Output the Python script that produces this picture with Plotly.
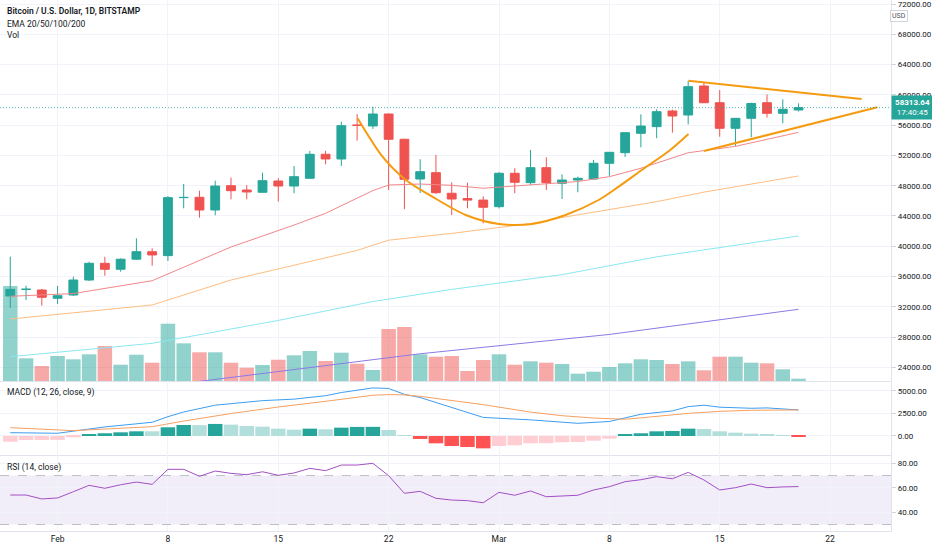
import pandas as pd
import plotly.graph_objects as go

# daily candles, Bitstamp BTC/USD
dates = pd.date_range("2021-01-29", "2021-03-20", freq="D")

opens = [33430, 34310, 34220, 33130, 33560, 35540, 37750, 36960, 38290, 39280,
         38760, 46420, 46470, 44790, 48000, 47430, 47130, 48620, 47960, 48980,
         52150, 51530, 56020, 55890, 57470, 54130, 48880, 49720, 47000, 46300,
         46100, 45230, 49640, 48400, 50380, 48320, 48750, 48880, 50960, 52360,
         54920, 55800, 57870, 57340, 61170, 58960, 55580, 56900, 58960, 57560,
         58000]
highs = [38620, 34790, 34350, 34750, 35980, 37960, 38620, 38390, 41050, 39730,
         46640, 48230, 47340, 48660, 49060, 48080, 49720, 49000, 50600, 52600,
         52620, 56460, 57470, 58440, 57530, 54200, 51490, 52060, 48450, 48400,
         46600, 49800, 50300, 52720, 51750, 49500, 49200, 51400, 52400, 54900,
         57430, 58100, 58050, 61870, 61600, 60640, 56900, 58960, 60070, 59410,
         58880]
lows = [31880, 32900, 32150, 32380, 33420, 35410, 36110, 36640, 38190, 37430,
        38050, 45010, 43770, 44100, 46200, 46200, 47070, 45890, 47000, 48900,
        50820, 50600, 53950, 55500, 47430, 44900, 47040, 46900, 44130, 45020,
        43030, 45000, 47000, 48100, 47430, 46240, 47130, 48880, 49300, 51800,
        53070, 54270, 55000, 56100, 59000, 54470, 53250, 54400, 57000, 56240,
        57800]
closes = [34310, 34320, 33260, 33470, 35540, 37750, 36960, 38290, 39280, 38850,
          46420, 46450, 44790, 47960, 47340, 47170, 48660, 47960, 49190, 52150,
          51530, 55930, 55960, 57470, 54130, 48850, 49850, 47080, 46240, 46100,
          45150, 49640, 48450, 50380, 48400, 48750, 48980, 50960, 52410, 55000,
          55880, 57780, 57210, 61080, 58960, 55580, 56900, 58860, 57560, 58090,
          58313.64]
volumes = [31350, 7490, 4950, 8250, 7160, 8810, 11550, 5380, 8680, 6040,
           18910, 12440, 9470, 9470, 6040, 4390, 5280, 7030, 8480, 9900,
           6600, 9340, 5710, 3630, 17160, 17820, 8810, 8020, 8250, 3300,
           6930, 8810, 5380, 6500, 6040, 5610, 2410, 3070, 4620, 5840,
           7160, 6930, 5610, 6500, 3530, 8020, 8020, 6040, 5840, 3860,
           760]

# moving averages
ema20_dates = ["2021-01-29", "2021-02-02", "2021-02-07", "2021-02-12", "2021-02-16",
               "2021-02-18", "2021-02-21", "2021-02-22", "2021-02-24", "2021-02-26",
               "2021-02-28", "2021-03-03", "2021-03-06", "2021-03-08", "2021-03-10",
               "2021-03-13", "2021-03-16", "2021-03-20"]
ema20 = [33390, 33750, 35450, 39900, 42800, 44350, 47350, 48090, 48220, 48050,
         47660, 48150, 48550, 49190, 50300, 52350, 53200, 55050]
ema50_dates = ["2021-01-29", "2021-02-07", "2021-02-12", "2021-02-18", "2021-02-20",
               "2021-02-22", "2021-02-26", "2021-03-03", "2021-03-05", "2021-03-11",
               "2021-03-14", "2021-03-20"]
ema50 = [30390, 32240, 35540, 38500, 39450, 40800, 41700, 43000, 43800, 45890,
         47150, 49280]
ema100_dates = ["2021-01-29", "2021-02-07", "2021-02-15", "2021-02-21", "2021-02-26",
                "2021-03-05", "2021-03-11", "2021-03-20"]
ema100 = [25410, 27180, 30200, 32700, 34300, 36250, 38600, 41360]
ema200_dates = ["2021-02-10", "2021-02-11", "2021-02-15", "2021-02-24", "2021-03-06",
                "2021-03-08", "2021-03-20"]
ema200 = [22150, 22400, 23450, 25800, 27920, 28350, 31670]

# MACD (12, 26, close, 9)
macd_dates = ["2021-01-29", "2021-02-01", "2021-02-04", "2021-02-07", "2021-02-08",
              "2021-02-09", "2021-02-11", "2021-02-14", "2021-02-16", "2021-02-18",
              "2021-02-19", "2021-02-21", "2021-02-22", "2021-02-23", "2021-02-24",
              "2021-02-27", "2021-02-28", "2021-03-03", "2021-03-06", "2021-03-08",
              "2021-03-10", "2021-03-12", "2021-03-13", "2021-03-14", "2021-03-15",
              "2021-03-17", "2021-03-18", "2021-03-20"]
macd = [365, 300, 1000, 1515, 2135, 2650, 3400, 3905, 4070, 4450,
        4800, 5310, 5250, 4600, 4250, 2550, 2050, 1780, 1400, 1600,
        2400, 2770, 3240, 3400, 3180, 3060, 3100, 2875]
signal_dates = ["2021-01-29", "2021-02-02", "2021-02-07", "2021-02-09", "2021-02-12",
                "2021-02-15", "2021-02-18", "2021-02-21", "2021-02-22", "2021-02-23",
                "2021-02-24", "2021-02-27", "2021-02-28", "2021-03-03", "2021-03-05",
                "2021-03-07", "2021-03-09", "2021-03-10", "2021-03-13", "2021-03-15",
                "2021-03-17", "2021-03-20"]
signal = [918, 590, 1030, 1650, 2480, 3200, 3830, 4500, 4570, 4540,
          4380, 3700, 3460, 2640, 2240, 1980, 1850, 2000, 2500, 2720,
          2840, 2875]
macd_hist = [-630, -440, -435, -430, -150, 185, 300, 405, 515, 515,
             960, 1215, 1200, 1330, 1255, 1105, 1030, 810, 700, 810,
             740, 920, 1000, 1010, 665, 70, -330, -810, -1105, -1220,
             -1365, -1105, -1030, -810, -800, -700, -665, -515, -295, 150,
             300, 515, 555, 810, 775, 515, 370, 260, 185, 75,
             -110]

# RSI (14, close)
rsi = [54.1, 54.1, 50.9, 51.7, 56.8, 62.0, 59.6, 62.5, 64.7, 62.8,
       75.1, 75.1, 69.4, 73.7, 71.8, 70.7, 73.1, 70.2, 72.1, 75.9,
       74.0, 78.6, 78.6, 80.0, 69.9, 55.5, 57.1, 51.4, 50.0, 49.5,
       47.8, 56.3, 53.9, 57.4, 52.7, 53.6, 53.9, 58.2, 60.9, 65.0,
       66.6, 69.1, 67.4, 72.6, 66.4, 58.2, 60.1, 63.1, 60.1, 60.7,
       61.0]

# hand drawn pattern lines (cup + triangle)
cup_dates = ["2021-02-20 00:45", "2021-02-21 14:40", "2021-02-23 02:10", "2021-02-24 18:30",
             "2021-02-26 21:20", "2021-03-01 00:00", "2021-03-03 02:25", "2021-03-05 05:15",
             "2021-03-07 07:40", "2021-03-08 14:10", "2021-03-10 01:25", "2021-03-11 20:40",
             "2021-03-13 00:30"]
cup_prices = [56900, 51830, 48750, 46550, 44130, 42940, 42940, 44130,
              46110, 47870, 50070, 52720, 54830]
tri_upper_dates = ["2021-03-13 00:30", "2021-03-24 00:00"]
tri_upper = [61870, 59450]
tri_lower_dates = ["2021-03-14 00:00", "2021-03-25 00:00"]
tri_lower = [52580, 58360]

last_price = 58313.64
last_time = "17:40:45"

tick_dates = ["2021-02-01", "2021-02-08", "2021-02-15", "2021-02-22",
              "2021-03-01", "2021-03-08", "2021-03-15", "2021-03-22"]
tick_text = ["Feb", "8", "15", "22", "Mar", "8", "15", "22"]

UP = "#26a69a"
DN = "#ef5350"
GRID = "#f0f3fa"
SEP = "#e0e3eb"
TXT = "#131722"
FONT = "Roboto, sans-serif"
XR = 893 / 932
MAIN0 = 1 - 381 / 550
MACD0 = 1 - 455 / 550
RSI0 = 1 - 531 / 550
DAY = 86400000

vol_colors = ["rgba(38,166,154,0.5)" if c >= o else "rgba(239,83,80,0.5)"
              for o, c in zip(opens, closes)]
hist_colors = []
for i, h in enumerate(macd_hist):
    prev = macd_hist[i - 1] if i else None
    if h >= 0:
        hist_colors.append("#26a69a" if prev is None or h > prev else "#b2dfdb")
    else:
        hist_colors.append("#ffcdd2" if prev is None or h > prev else "#ff5252")

fig = go.Figure()

# volume sits on the base axis so the price layer is drawn above it
fig.add_trace(go.Bar(x=dates, y=volumes, marker=dict(color=vol_colors, line_width=0),
                     width=0.92 * DAY, xaxis="x", yaxis="y", hoverinfo="skip"))

for d, v, col in [(ema200_dates, ema200, "#8c7ae6"), (ema100_dates, ema100, "#8ae8f0"),
                  (ema50_dates, ema50, "#ffbd80"), (ema20_dates, ema20, "#f3868a")]:
    fig.add_trace(go.Scatter(x=d, y=v, mode="lines", line=dict(color=col, width=1),
                             xaxis="x", yaxis="y2", hoverinfo="skip"))

fig.add_trace(go.Candlestick(
    x=dates, open=opens, high=highs, low=lows, close=closes,
    xaxis="x", yaxis="y2", whiskerwidth=0,
    increasing=dict(line=dict(color=UP, width=1), fillcolor=UP),
    decreasing=dict(line=dict(color=DN, width=1), fillcolor=DN),
    hoverinfo="skip"))

fig.add_trace(go.Scatter(x=cup_dates, y=cup_prices, mode="lines",
                         line=dict(color="#f59b0f", width=2, shape="spline", smoothing=0.8),
                         xaxis="x", yaxis="y2"))
fig.add_trace(go.Scatter(x=tri_upper_dates, y=tri_upper, mode="lines",
                         line=dict(color="#f59b0f", width=2), xaxis="x", yaxis="y2"))
fig.add_trace(go.Scatter(x=tri_lower_dates, y=tri_lower, mode="lines",
                         line=dict(color="#f59b0f", width=2), xaxis="x", yaxis="y2"))

# MACD pane
fig.add_trace(go.Bar(x=dates, y=macd_hist, marker=dict(color=hist_colors, line_width=0),
                     width=0.92 * DAY, xaxis="x2", yaxis="y3", hoverinfo="skip"))
fig.add_trace(go.Scatter(x=macd_dates, y=macd, mode="lines", line=dict(color="#3d9df2", width=1),
                         xaxis="x2", yaxis="y3"))
fig.add_trace(go.Scatter(x=signal_dates, y=signal, mode="lines", line=dict(color="#f7a060", width=1),
                         xaxis="x2", yaxis="y3"))

# RSI pane
fig.add_trace(go.Scatter(x=dates, y=rsi, mode="lines", line=dict(color="#a24fc4", width=1),
                         xaxis="x3", yaxis="y4"))

x_range = ["2021-01-28 08:21", "2021-03-25 20:53"]
xcommon = dict(domain=[0, XR], type="date", tickvals=tick_dates, ticktext=tick_text,
               showgrid=True, gridcolor=GRID, gridwidth=1, showline=True, linecolor=SEP,
               zeroline=False, fixedrange=True)
ycommon = dict(side="right", showgrid=True, gridcolor=GRID, showline=True, linecolor=SEP,
               ticks="outside", ticklen=4, tickcolor="#d1d4dc", tickformat=".2f",
               tickfont=dict(size=8, color=TXT), zeroline=False, fixedrange=True,
               ticklabeloverflow="allow")

fig.update_layout(
    width=932, height=550, autosize=False,
    margin=dict(l=0, r=0, t=0, b=0),
    paper_bgcolor="white", plot_bgcolor="white",
    showlegend=False, hovermode=False,
    boxgap=0.2,
    font=dict(family=FONT, size=8, color=TXT),
    xaxis=dict(xcommon, anchor="y", range=x_range, showticklabels=False,
               rangeslider=dict(visible=False)),
    xaxis2=dict(xcommon, anchor="y3", matches="x", showticklabels=False),
    xaxis3=dict(xcommon, anchor="y4", matches="x", showticklabels=True,
                tickfont=dict(size=8.5, color=TXT)),
    yaxis=dict(domain=[MAIN0, 1], anchor="x", range=[0, 125730], visible=False, fixedrange=True),
    yaxis2=dict(ycommon, overlaying="y", anchor="x", range=[22200, 72530], dtick=4000, tick0=0),
    yaxis3=dict(ycommon, domain=[MACD0, MAIN0], anchor="x2", range=[-2100, 6073],
                tickvals=[0, 2500, 5000]),
    yaxis4=dict(ycommon, domain=[RSI0, MACD0], anchor="x3", range=[24.7, 86.8],
                tickvals=[40, 60, 80]),
)

# RSI band and current price line
fig.add_shape(type="rect", xref="x3 domain", yref="y4", x0=0, x1=1, y0=30, y1=70,
              fillcolor="rgba(126,87,194,0.1)", line_width=0, layer="below")
for lvl in (30, 70):
    fig.add_shape(type="line", xref="x3 domain", yref="y4", x0=0, x1=1, y0=lvl, y1=lvl,
                  line=dict(color="rgba(120,123,134,0.45)", width=1, dash="dash"))
fig.add_shape(type="line", xref="x domain", yref="y2", x0=0, x1=1, y0=last_price, y1=last_price,
              line=dict(color=UP, width=1, dash="1px,2px"), opacity=0.8)

fig.add_annotation(xref="paper", yref="y2", x=XR, y=last_price, xanchor="left", yanchor="middle",
                   text=f"<b>{last_price:.2f}</b><br>{last_time}", showarrow=False,
                   bgcolor=UP, font=dict(size=8, color="white"), width=37, borderpad=2,
                   align="center")
fig.add_annotation(xref="paper", yref="paper", x=910 / 932, y=1 - 10 / 550, text="USD",
                   showarrow=False, font=dict(size=7, color="#50535e"), bordercolor="#d1d4dc",
                   borderwidth=1, borderpad=1, bgcolor="white")

labels = [("Bitcoin / U.S. Dollar, 1D, BITSTAMP", 11.5, 8.5, 600),
          ("EMA 20/50/100/200", 23.5, 8.5, 400),
          ("Vol", 35, 8.5, 400),
          ("MACD (12, 26, close, 9)", 392.7, 8.5, 400),
          ("RSI (14, close)", 467.5, 8.5, 400)]
for txt, py, size, weight in labels:
    fig.add_annotation(xref="paper", yref="paper", x=5 / 932, y=1 - py / 550, text=txt,
                       xanchor="left", yanchor="middle", showarrow=False,
                       font=dict(size=size, color=TXT, weight=weight))

fig.write_html("out.html", config={"displayModeBar": False},
               post_script="document.body.style.margin='0';")
